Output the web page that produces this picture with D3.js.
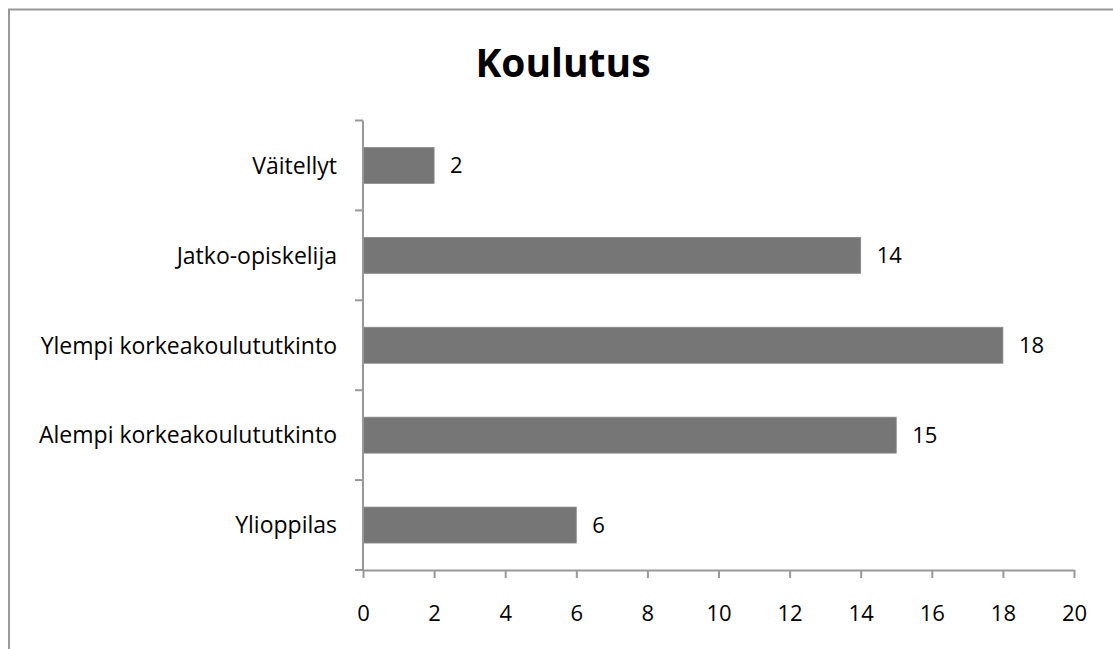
<!DOCTYPE html>
<html lang="fi">
<head>
<meta charset="UTF-8">
<title>Koulutus</title>
<script src="https://cdnjs.cloudflare.com/ajax/libs/d3/7.8.5/d3.min.js"></script>
<style>
  body { margin: 0; background: #fff; }
  text { font-family: "Open Sans", sans-serif; fill: #000; }
</style>
</head>
<body>
<div id="chart"></div>
<script>
    // data, top to bottom
    var categories = ["Väitellyt", "Jatko-opiskelija", "Ylempi korkeakoulututkinto", "Alempi korkeakoulututkinto", "Ylioppilas"];
    var counts = [2, 14, 18, 15, 6];
    var xTicks = [0, 2, 4, 6, 8, 10, 12, 14, 16, 18, 20];
    var title = "Koulutus";

    var data = categories.map(function (c, i) { return {name: c, n: counts[i]}; });

    var W = 1113, H = 649;
    var margin = {top: 120.5, right: 39, bottom: 79, left: 363};
    var width = W - margin.left - margin.right,
        height = H - margin.top - margin.bottom;

    var svg = d3.select("#chart").append("svg")
        .attr("width", W)
        .attr("height", H);

    // chart frame (runs off right and bottom)
    svg.append("rect")
        .attr("x", 9).attr("y", 9.5)
        .attr("width", 1120).attr("height", 700)
        .attr("fill", "none")
        .attr("stroke", "#999")
        .attr("stroke-width", 2);

    svg.append("text")
        .attr("x", 563).attr("y", 77)
        .attr("text-anchor", "middle")
        .style("font-size", "39px")
        .style("font-weight", "bold")
        .text(title);

    var g = svg.append("g")
        .attr("transform", "translate(" + margin.left + "," + margin.top + ")");

    var x = d3.scaleLinear().domain([0, 20]).range([0, width]);
    var y = d3.scaleBand().domain(categories).range([0, height])
        .paddingInner(0.6).paddingOuter(0.3);

    var step = y.step();

    g.selectAll("rect.bar")
        .data(data)
        .enter().append("rect")
        .attr("class", "bar")
        .attr("x", 0)
        .attr("y", function (d) { return y(d.name); })
        .attr("width", function (d) { return x(d.n); })
        .attr("height", y.bandwidth())
        .attr("fill", "#767676")
        .attr("stroke", "#8a8a8a")
        .attr("stroke-width", 0.8);

    g.selectAll("text.val")
        .data(data)
        .enter().append("text")
        .attr("class", "val")
        .attr("x", function (d) { return x(d.n) + 16; })
        .attr("y", function (d) { return y(d.name) + y.bandwidth() / 2; })
        .attr("dy", "0.36em")
        .style("font-size", "22px")
        .text(function (d) { return d.n; });

    // y axis with ticks between categories
    var bounds = [0].concat(categories.map(function (c) { return y(c) - (step - y.bandwidth()) / 2 + step; }));
    g.append("line")
        .attr("x1", 0).attr("x2", 0)
        .attr("y1", 0).attr("y2", height)
        .attr("stroke", "#999").attr("stroke-width", 2);
    g.selectAll("line.ytick")
        .data(bounds)
        .enter().append("line")
        .attr("class", "ytick")
        .attr("x1", -8).attr("x2", 0)
        .attr("y1", function (d) { return d; })
        .attr("y2", function (d) { return d; })
        .attr("stroke", "#999").attr("stroke-width", 2);

    g.selectAll("text.cat")
        .data(categories)
        .enter().append("text")
        .attr("class", "cat")
        .attr("x", -26)
        .attr("y", function (d) { return y(d) + y.bandwidth() / 2; })
        .attr("dy", "0.36em")
        .attr("text-anchor", "end")
        .style("font-size", "23px")
        .text(function (d) { return d; });

    // x axis
    var xAxis = d3.axisBottom(x)
        .tickValues(xTicks)
        .tickSizeInner(8)
        .tickSizeOuter(0)
        .tickPadding(27);

    var xg = g.append("g")
        .attr("transform", "translate(0," + height + ")")
        .call(xAxis);
    xg.select(".domain").attr("stroke", "#999").attr("stroke-width", 2);
    xg.selectAll(".tick line").attr("stroke", "#999").attr("stroke-width", 2);
    xg.selectAll(".tick text")
        .style("font-family", "Open Sans, sans-serif")
        .style("font-size", "22px")
        .attr("fill", "#000");
</script>
</body>
</html>
